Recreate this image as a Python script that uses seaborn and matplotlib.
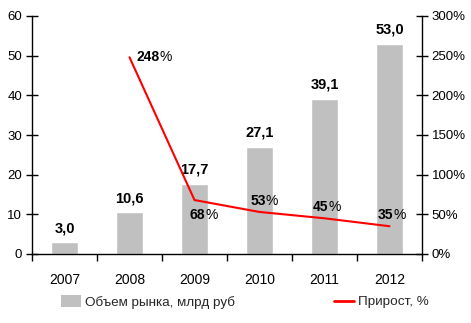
import matplotlib
matplotlib.use("Agg")
import matplotlib.pyplot as plt
import seaborn as sns
import pandas as pd
from matplotlib.ticker import FixedLocator, FuncFormatter, MultipleLocator
from matplotlib.lines import Line2D
from matplotlib.patches import Patch

years = ["2007", "2008", "2009", "2010", "2011", "2012"]
market_volume = [3.0, 10.6, 17.7, 27.1, 39.1, 53.0]
growth_years = ["2008", "2009", "2010", "2011", "2012"]
growth_pct = [248, 68, 53, 45, 35]
bar_label = "Объем рынка, млрд руб"
line_label = "Прирост, %"

sns.set_theme(style="white")
plt.rcParams["font.family"] = ["Liberation Sans", "DejaVu Sans"]

bar_color = "#c0c0c0"
line_color = "#ff0000"

fig = plt.figure(figsize=(4.71, 3.23), dpi=100)
ax = fig.add_axes([32 / 471, 1 - 254 / 323, 390 / 471, 238 / 323])

df = pd.DataFrame({"year": years, "volume": market_volume})
sns.barplot(data=df, x="year", y="volume", color=bar_color, width=0.42,
            saturation=1, ax=ax)
ax.set_xlim(-0.5, len(years) - 0.5)
ax.set_ylim(0, 60)
ax.yaxis.set_major_locator(MultipleLocator(10))
ax.set_xlabel("")
ax.set_ylabel("")

# year boundaries carry tick marks, year centers carry the labels
ax.xaxis.set_minor_locator(FixedLocator([i - 0.5 for i in range(len(years) + 1)]))
ax.tick_params(axis="x", which="major", length=0, labelsize=10, pad=14, colors="black")
ax.tick_params(axis="x", which="minor", length=5, width=1, direction="out", color="black", bottom=True)
ax.tick_params(axis="y", which="major", length=8, width=1, direction="inout", labelsize=9.5,
               colors="black", left=True, pad=3)

for s in ["top", "right"]:
    ax.spines[s].set_visible(False)
for s in ["left", "bottom"]:
    ax.spines[s].set_color("black")
    ax.spines[s].set_linewidth(1)

for i, v in enumerate(market_volume):
    ax.annotate(f"{v:.1f}".replace(".", ","), (i, v), xytext=(0, 5),
                textcoords="offset points", ha="center", va="bottom",
                fontsize=10.5, fontweight="bold", color="black")

ax2 = ax.twinx()
line_x = [years.index(y) for y in growth_years]
sns.lineplot(x=line_x, y=growth_pct, color=line_color, linewidth=1.5, ax=ax2)
ax2.set_ylim(0, 300)
ax2.set_xlim(-0.5, len(years) - 0.5)
ax2.yaxis.set_major_locator(MultipleLocator(50))
ax2.yaxis.set_major_formatter(FuncFormatter(lambda v, p: f"{v:.0f}%"))
ax2.tick_params(axis="y", which="major", length=8, width=1, direction="inout", labelsize=9.5,
                colors="black", right=True, pad=3)
for s in ["top", "left", "bottom"]:
    ax2.spines[s].set_visible(False)
ax2.spines["right"].set_color("black")
ax2.spines["right"].set_linewidth(1)
ax2.grid(False)
ax.grid(False)

# growth labels: bold digits followed by a regular percent sign
offsets = [(5, 0, "left", "center"), (5, -6, "center", "top"), (2, 3, "center", "bottom"),
           (0, 3, "center", "bottom"), (0, 3, "center", "bottom")]
for xv, yv, (dx, dy, ha, va) in zip(line_x, growth_pct, offsets):
    shift = -3 if ha == "center" else 0
    t = ax2.annotate(f"{yv}", (xv, yv), xytext=(dx + shift, dy), textcoords="offset points",
                     ha=ha, va=va, fontsize=10, fontweight="bold", color="black")
    ax2.annotate("%", xy=(1, 0), xycoords=t, xytext=(0, 0), textcoords="offset points",
                 ha="left", va="bottom", fontsize=10, color="black")

h1 = [Patch(facecolor=bar_color, edgecolor="none")]
h2 = [Line2D([0], [0], color=line_color, lw=2)]
leg1 = fig.legend(h1, [bar_label], loc="center left", bbox_to_anchor=(49 / 471, 1 - 302 / 323),
                  frameon=False, fontsize=9.7, handlelength=1.5, handleheight=0.9, handletextpad=0.3)
leg2 = fig.legend(h2, [line_label], loc="center left", bbox_to_anchor=(322 / 471, 1 - 302 / 323),
                  frameon=False, fontsize=9.7, handlelength=1.5, handletextpad=0.3)

fig.savefig("out.png", dpi=100)
